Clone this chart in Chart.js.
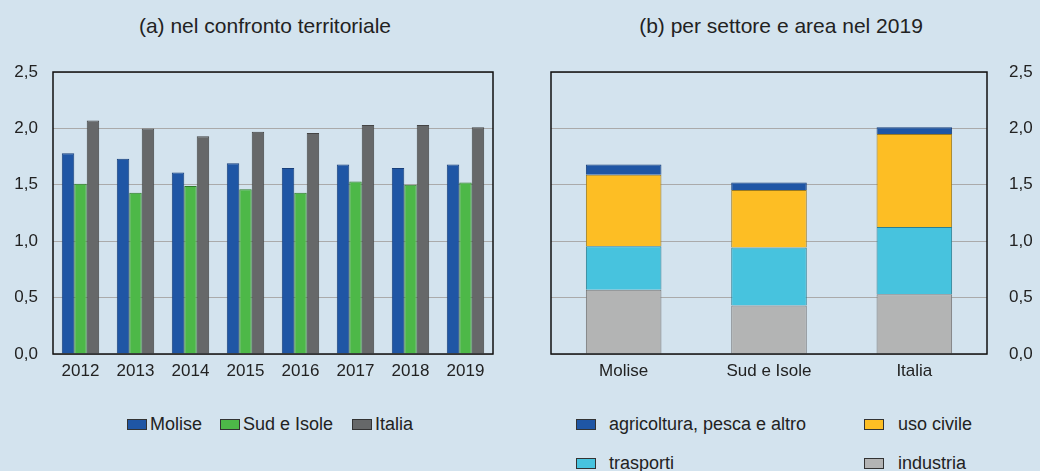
<!DOCTYPE html>
<html lang="it">
<head>
<meta charset="UTF-8">
<title>Consumi energetici</title>
<script src="https://cdn.jsdelivr.net/npm/chart.js"></script>
<style>
  body { margin: 0; background: #d3e3ee; font-family: "Liberation Sans", Arial, sans-serif; color: #222; }
  #wrap { position: relative; width: 1040px; height: 471px; overflow: hidden; }
  .ttl { position: absolute; top: 14px; font-size: 21px; text-align: center; }
  .box { position: absolute; }
  .leg { position: absolute; font-size: 18px; white-space: nowrap; line-height: 20px; }
  .leg span.sw { display: inline-block; width: 18px; height: 9px; border: 1px solid #333; vertical-align: 0px; margin-right: 4px; }
</style>
</head>
<body>
<div id="wrap">
  <div class="ttl" style="left:0; width:530px;">(a) nel confronto territoriale</div>
  <div class="ttl" style="left:520px; width:522px;">(b) per settore e area nel 2019</div>
  <div class="box" style="left:0; top:0; width:520px; height:400px;"><canvas id="chartA" width="520" height="400"></canvas></div>
  <div class="box" style="left:520px; top:0; width:520px; height:400px;"><canvas id="chartB" width="520" height="400"></canvas></div>
</div>

<script>
// (a) serie storiche
var anni = ['2012', '2013', '2014', '2015', '2016', '2017', '2018', '2019'];
var molise = [1.78, 1.73, 1.61, 1.69, 1.65, 1.68, 1.65, 1.68];
var sudIsole = [1.51, 1.43, 1.49, 1.46, 1.43, 1.53, 1.50, 1.52];
var italia = [2.07, 2.00, 1.93, 1.97, 1.96, 2.03, 2.03, 2.01];

// (b) per settore nel 2019
var aree = ['Molise', 'Sud e Isole', 'Italia'];
var industria = [0.57, 0.43, 0.53];
var trasporti = [0.385, 0.515, 0.595];
var usoCivile = [0.635, 0.51, 0.825];
var agricoltura = [0.09, 0.065, 0.06];

var yTicks = [0, 0.5, 1, 1.5, 2, 2.5];

var blu = '#1f56a5', verde = '#4db848', grigio = '#666869';
var giallo = '#fdbe24', ciano = '#47c3de', grigioChiaro = '#b3b4b4';

function fmt(v) { return v.toFixed(1).replace('.', ','); }

// cornice nera attorno all'area del grafico
var frame = {
  id: 'frame',
  afterDatasetsDraw: function(chart) {
    var a = chart.chartArea, c = chart.ctx;
    c.save();
    c.strokeStyle = '#111';
    c.lineWidth = 1.5;
    c.strokeRect(a.left, a.top, a.right - a.left, a.bottom - a.top);
    c.restore();
  }
};

var tickFont = { family: 'Liberation Sans', size: 17 };

function yAxis(pos, w, pad) {
  return {
    position: pos,
    min: 0, max: 2.5,
    afterBuildTicks: function(s) { s.ticks = yTicks.map(function(v) { return { value: v }; }); },
    afterFit: function(s) { s.width = w; },
    grid: { color: '#aaa', lineWidth: 1, drawTicks: false },
    border: { display: false },
    ticks: { color: '#222', font: tickFont, padding: pad, callback: function(v) { return fmt(v); } }
  };
}

function xAxis(stacked) {
  return {
    stacked: stacked,
    afterFit: function(s) { s.height = 46; },
    grid: { display: false, drawTicks: false },
    border: { display: false },
    ticks: { color: '#222', font: tickFont, padding: 7 }
  };
}

var baseOpts = {
  responsive: false,
  animation: false,
  plugins: { legend: { display: false }, tooltip: { enabled: false } }
};

new Chart(document.getElementById('chartA'), {
  type: 'bar',
  data: {
    labels: anni,
    datasets: [
      { label: 'Molise', data: molise, backgroundColor: blu, borderColor: '#173f7a', borderWidth: 1 },
      { label: 'Sud e Isole', data: sudIsole, backgroundColor: verde, borderColor: '#2f7a2b', borderWidth: 1 },
      { label: 'Italia', data: italia, backgroundColor: grigio, borderColor: '#444', borderWidth: 1 }
    ]
  },
  options: Object.assign({}, baseOpts, {
    layout: { padding: { top: 72, left: 0, right: 27, bottom: 0 } },
    datasets: { bar: { categoryPercentage: 0.68, barPercentage: 1 } },
    scales: { x: xAxis(false), y: yAxis('left', 53, 15) }
  }),
  plugins: [frame]
});

new Chart(document.getElementById('chartB'), {
  type: 'bar',
  data: {
    labels: aree,
    datasets: [
      { label: 'industria', data: industria, backgroundColor: grigioChiaro, borderColor: '#777', borderWidth: 1 },
      { label: 'trasporti', data: trasporti, backgroundColor: ciano, borderColor: '#2d7f92', borderWidth: 1 },
      { label: 'uso civile', data: usoCivile, backgroundColor: giallo, borderColor: '#9a7a20', borderWidth: 1 },
      { label: 'agricoltura, pesca e altro', data: agricoltura, backgroundColor: blu, borderColor: '#173f7a', borderWidth: 1 }
    ]
  },
  options: Object.assign({}, baseOpts, {
    layout: { padding: { top: 72, left: 31, right: 0, bottom: 0 } },
    datasets: { bar: { categoryPercentage: 1, barPercentage: 0.52 } },
    scales: { x: xAxis(true), y: Object.assign(yAxis('right', 53, 22), { stacked: true }) }
  }),
  plugins: [frame]
});

// legende (HTML, costruite dagli stessi nomi/colori)
var wrap = document.getElementById('wrap');
function legendItem(x, y, label, color, gap) {
  var d = document.createElement('div');
  d.className = 'leg';
  d.style.left = x + 'px';
  d.style.top = (y - 10) + 'px';
  d.innerHTML = '<span class="sw" style="background:' + color + ';margin-right:' + gap + 'px"></span>' + label;
  wrap.appendChild(d);
}
legendItem(127, 424, 'Molise', blu, 3);
legendItem(220, 424, 'Sud e Isole', verde, 3);
legendItem(352, 424, 'Italia', grigio, 3);
legendItem(576, 424, 'agricoltura, pesca e altro', blu, 13);
legendItem(864, 424, 'uso civile', giallo, 14);
legendItem(576, 463, 'trasporti', ciano, 13);
legendItem(864, 463, 'industria', grigioChiaro, 14);
</script>
</body>
</html>
